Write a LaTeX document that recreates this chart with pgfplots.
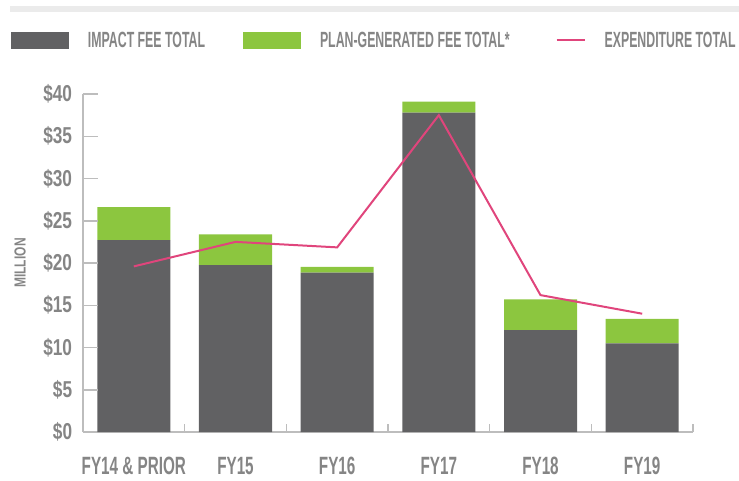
\documentclass[border=0pt]{standalone}
\usepackage{fontspec}
\setmainfont{Liberation Sans}
\newfontfamily\condA[FakeStretch=0.56]{Liberation Sans}
\newfontfamily\condX[FakeStretch=0.61]{Liberation Sans}
\newfontfamily\condY[FakeStretch=0.75]{Liberation Sans}
\usepackage{pgfplots}
\pgfplotsset{compat=1.18}
\definecolor{bargray}{HTML}{616163}
\definecolor{bargreen}{HTML}{8CC63F}
\definecolor{pinkline}{HTML}{E0457C}
\definecolor{axisgray}{HTML}{BDBDBD}
\definecolor{labelgray}{HTML}{858585}
\definecolor{bandgray}{HTML}{EBEBEB}
\pgfplotsset{
  boxlegend/.style={legend image code/.code={\path[##1] (0pt,-8.5pt) rectangle (58pt,8.5pt);}},
  linelegend/.style={legend image code/.code={\draw[##1] (0pt,0pt) -- (28pt,0pt);}},
  common/.style={at={(0pt,0pt)}, anchor=south west,
    scale only axis, width=610pt, height=338pt,
    xmin=-0.5, xmax=5.5, ymin=0, ymax=40},
  tickline/.style={draw=axisgray, line width=1.5pt, mark=none, forget plot},
}
\begin{document}
\begin{tikzpicture}
\path[use as bounding box] (-83pt,-48pt) rectangle (656pt,432pt);
\fill[bandgray] (-73pt,419.7pt) rectangle (656pt,426.3pt);
\begin{axis}[
  common,
  ybar stacked, bar width=73pt,
  axis x line*=bottom, axis y line*=left,
  axis line style={draw=axisgray, line width=1.5pt},
  ytick={0,5,10,15,20,25,30,35,40},
  yticklabels={\$0,\$5,\$10,\$15,\$20,\$25,\$30,\$35,\$40},
  xtick=\empty,
  tick align=inside,
  major tick length=15pt,
  tick style={draw=axisgray, line width=1.5pt},
  yticklabel style={font=\condY\bfseries\fontsize{23}{23}\selectfont, text=labelgray, inner sep=0pt, anchor=east, xshift=-10.7pt},
  ylabel={MILLION},
  every axis y label/.style={at={([xshift=-63pt]axis description cs:0,0.5)}, rotate=90, anchor=center, font=\condY\bfseries\fontsize{16}{16}\selectfont, text=labelgray},
  boxlegend,
  legend columns=3,
  legend cell align=left,
  legend style={at={([xshift=-72pt,yshift=391.5pt]axis description cs:0,0)}, anchor=west,
    draw=none, fill=none, inner sep=0pt, outer sep=0pt,
    nodes={inner sep=0pt},
    font=\condA\bfseries\fontsize{22}{22}\selectfont, text=labelgray,
    /tikz/every odd column/.append style={column sep=19pt},
    /tikz/column 2/.append style={column sep=38pt},
    /tikz/column 4/.append style={column sep=46pt}},
]
\addplot[fill=bargray, draw=none] coordinates {(0,22.7) (1,19.75) (2,18.85) (3,37.8) (4,12.05) (5,10.5)};
\addlegendentry{IMPACT FEE TOTAL}
\addplot[fill=bargreen, draw=none] coordinates {(0,3.9) (1,3.65) (2,0.7) (3,1.3) (4,3.65) (5,2.9)};
\addlegendentry{PLAN-GENERATED FEE TOTAL*}
\addlegendimage{linelegend, draw=pinkline, line width=2pt}
\addlegendentry{EXPENDITURE TOTAL}
\end{axis}
\begin{axis}[
  common,
  clip=false,
  axis x line*=bottom, axis y line=none,
  axis line style={draw=none},
  ytick=\empty,
  xtick={0,1,2,3,4,5},
  xticklabels={FY14 \& PRIOR,FY15,FY16,FY17,FY18,FY19},
  major tick length=0pt,
  tick style={draw=none},
  xticklabel style={font=\condX\bfseries\fontsize{25}{25}\selectfont, text=labelgray, inner sep=0pt, anchor=north, yshift=-25pt},
]
% y-axis tick marks (inside, 15pt long)
\addplot[tickline] coordinates {(-0.5,5) (-0.3525,5)};
\addplot[tickline] coordinates {(-0.5,10) (-0.3525,10)};
\addplot[tickline] coordinates {(-0.5,15) (-0.3525,15)};
\addplot[tickline] coordinates {(-0.5,20) (-0.3525,20)};
\addplot[tickline] coordinates {(-0.5,25) (-0.3525,25)};
\addplot[tickline] coordinates {(-0.5,30) (-0.3525,30)};
\addplot[tickline] coordinates {(-0.5,35) (-0.3525,35)};
\addplot[tickline] coordinates {(-0.5,40) (-0.3525,40)};
% x-axis boundary tick marks (inside, 8pt long)
\addplot[tickline] coordinates {(0.5,0) (0.5,0.95)};
\addplot[tickline] coordinates {(1.5,0) (1.5,0.95)};
\addplot[tickline] coordinates {(2.5,0) (2.5,0.95)};
\addplot[tickline] coordinates {(3.5,0) (3.5,0.95)};
\addplot[tickline] coordinates {(4.5,0) (4.5,0.95)};
\addplot[tickline] coordinates {(5.5,0) (5.5,0.95)};
% expenditure total
\addplot[draw=pinkline, line width=2pt, mark=none] coordinates {(0,19.6) (1,22.5) (2,21.85) (3,37.5) (4,16.2) (5,14.0)};
\end{axis}
\end{tikzpicture}
\end{document}
